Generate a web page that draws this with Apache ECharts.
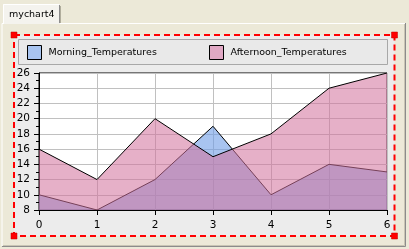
<!DOCTYPE html>
<html><head><meta charset="utf-8">
<script src="https://cdn.jsdelivr.net/npm/echarts@6/dist/echarts.min.js"></script>
<style>html,body{margin:0;padding:0;background:#ece9d8}#c{width:409px;height:249px}</style>
</head><body><div id="c"></div>
<script>
const categories = ['0','1','2','3','4','5','6'];
const morning = [10, 8, 12, 19, 10, 14, 13];
const afternoon = [16, 12, 20, 15, 18, 24, 26];
const seriesNames = ['Morning_Temperatures', 'Afternoon_Temperatures'];
const yMin = 8, yMax = 26, yStep = 2;
const tabTitle = 'mychart4';

const FONT = 'DejaVu Sans';
const chart = echarts.init(document.getElementById('c'), null, {renderer: 'canvas'});

const red = '#ff0000';
const corners = [[14,35],[394.5,35],[14,236],[394.5,236]].map(p => ({
  type: 'rect', z: 10, shape: {x: p[0]-3, y: p[1]-3, width: 6, height: 6},
  style: {fill: '#ff0000', stroke: '#c00000', lineWidth: 0.5}
}));

chart.setOption({
  backgroundColor: '#ece9d8',
  animation: false,
  graphic: [
    // panel
    {type: 'polyline', z: -5, shape: {points: [[2,246],[2,23.5],[3,23.5]]}, style: {stroke: '#ffffff', lineWidth: 1, fill: null}},
    {type: 'polyline', z: -5, shape: {points: [[60,23.5],[405.5,23.5]]}, style: {stroke: '#ffffff', lineWidth: 1, fill: null}},
    {type: 'polyline', z: -5, shape: {points: [[405.5,23],[405.5,246.5],[2,246.5]]}, style: {stroke: '#8c8c8c', lineWidth: 1, fill: null}},
    {type: 'polyline', z: -5, shape: {points: [[404.5,24],[404.5,245.5],[3,245.5]]}, style: {stroke: '#c8c5b4', lineWidth: 1, fill: null}},
    // tab
    {type: 'rect', z: -5, shape: {x: 3, y: 4, width: 57, height: 20}, style: {fill: '#f4f3ee'}},
    {type: 'polyline', z: -4, shape: {points: [[3.5,24],[3.5,4.5],[59,4.5]]}, style: {stroke: '#ffffff', lineWidth: 1, fill: null}},
    {type: 'polyline', z: -4, shape: {points: [[59.5,5],[59.5,23]]}, style: {stroke: '#8c8c8c', lineWidth: 1, fill: null}},
    {type: 'polyline', z: -4, shape: {points: [[60.5,6],[60.5,23]]}, style: {stroke: '#b0ad9c', lineWidth: 1, fill: null}},
    {type: 'text', z: -3, style: {text: tabTitle, x: 9, y: 15, font: '9.5px "' + FONT + '"', fill: '#000', verticalAlign: 'middle'}},
    // chart background
    {type: 'rect', z: -4, shape: {x: 14, y: 35, width: 380.5, height: 201}, style: {fill: '#ececec'}},
    // legend box
    {type: 'rect', z: -3, shape: {x: 18.5, y: 39.5, width: 369, height: 25}, style: {fill: '#e9e9e9', stroke: '#a8a8a8', lineWidth: 1}},
    // red dashed selection
    {type: 'rect', z: 9, shape: {x: 14, y: 35, width: 380.5, height: 201}, style: {fill: null, stroke: red, lineWidth: 2, lineDash: [6, 4]}},
    ...corners
  ],
  legend: [
    {data: [{name: seriesNames[0], itemStyle: {color: '#a8c4f0', borderColor: '#000', borderWidth: 1}}],
     left: 27, top: 45, padding: 0, itemWidth: 14, itemHeight: 14, itemGap: 0, icon: 'rect',
     selectedMode: false, textStyle: {fontFamily: FONT, fontSize: 9.5, color: '#000', padding: [0,0,0,2]}},
    {data: [{name: seriesNames[1], itemStyle: {color: '#e0a8c4', borderColor: '#000', borderWidth: 1}}],
     left: 209, top: 45, padding: 0, itemWidth: 14, itemHeight: 14, itemGap: 0, icon: 'rect',
     selectedMode: false, textStyle: {fontFamily: FONT, fontSize: 9.5, color: '#000', padding: [0,0,0,2]}}
  ],
  grid: {left: 39, top: 73, width: 348, height: 137, show: true, backgroundColor: '#ffffff', borderColor: '#000', borderWidth: 1, containLabel: false},
  xAxis: {
    type: 'category', data: categories, boundaryGap: false,
    axisLine: {lineStyle: {color: '#000', width: 1}},
    axisTick: {show: true, length: 5, lineStyle: {color: '#000'}},
    axisLabel: {fontFamily: FONT, fontSize: 10.5, color: '#000', margin: 10},
    splitLine: {show: true, lineStyle: {color: '#c0c0c0', width: 1}}
  },
  yAxis: {
    type: 'value', min: yMin, max: yMax, interval: yStep,
    axisLine: {show: true, lineStyle: {color: '#000', width: 1}},
    axisTick: {show: true, length: 5, lineStyle: {color: '#000'}},
    minorTick: {show: true, splitNumber: 2, length: 3, lineStyle: {color: '#000'}},
    axisLabel: {fontFamily: FONT, fontSize: 10.5, color: '#000', margin: 9},
    splitLine: {show: true, lineStyle: {color: '#c0c0c0', width: 1}}
  },
  series: [
    {name: seriesNames[0], type: 'line', data: morning, symbol: 'none', z: 2,
     itemStyle: {color: '#a8c4f0'},
     lineStyle: {color: '#000', width: 1},
     areaStyle: {color: 'rgba(110,157,230,0.6)', opacity: 1}},
    {name: seriesNames[1], type: 'line', data: afternoon, symbol: 'none', z: 3,
     itemStyle: {color: '#e0a8c4'},
     lineStyle: {color: '#000', width: 1},
     areaStyle: {color: 'rgba(210,114,157,0.56)', opacity: 1}}
  ]
});
</script></body></html>
